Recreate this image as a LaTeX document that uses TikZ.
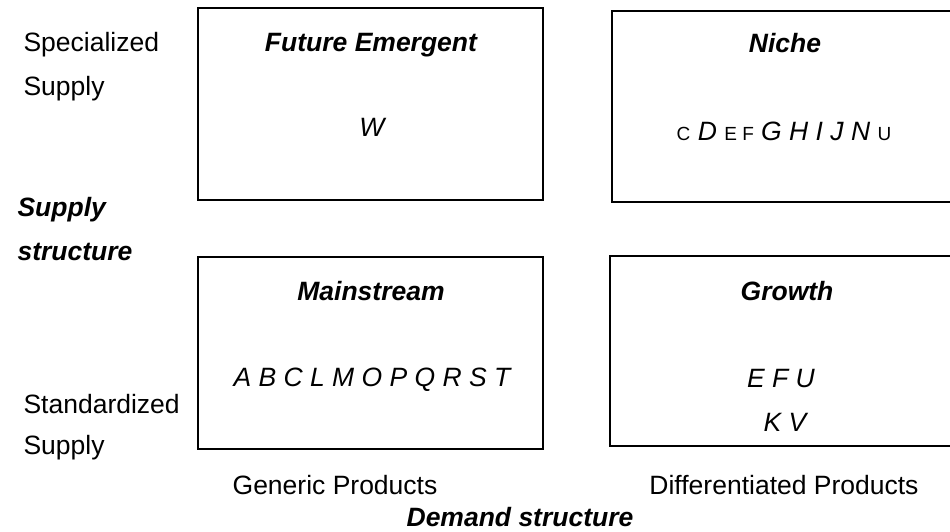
\documentclass[tikz,border=0pt]{standalone}
\usepackage{fontspec}
\setmainfont{Liberation Sans}
\newcommand\smallup[1]{{\fontsize{19}{22}\selectfont\upshape #1}}
\begin{document}
\begin{tikzpicture}[x=1pt,y=-1pt,
    cell/.style={draw,line width=1.7pt,inner sep=0pt},
    head/.style={anchor=base,font=\fontsize{26.5}{30}\selectfont\bfseries\itshape},
    items/.style={anchor=base,font=\fontsize{26.5}{30}\selectfont\itshape},
    side/.style={anchor=base west,font=\fontsize{26.5}{30}\selectfont}]
  \useasboundingbox (0,0) rectangle (950,531);
  \clip (0,0) rectangle (950,531);
  % the four quadrants
  \draw
    (370.5,104) node[cell,minimum width=345,minimum height=192] (emergent){}
    (786,106.5) node[cell,minimum width=348,minimum height=191] (niche){}
    (370.5,353) node[cell,minimum width=345,minimum height=192] (mainstream){}
    (785,351) node[cell,minimum width=350,minimum height=190] (growth){};
  % titles and members
  \draw
    (371,51) node[head] (emergenttitle){Future Emergent}
    (372,136) node[items] (emergentlist){W}
    (785,52) node[head] (nichetitle){Niche}
    (784,140) node[items] (nichelist){\smallup{C} D \smallup{E F} G H I J N \smallup{U}}
    (371,300) node[head] (mainstreamtitle){Mainstream}
    (372,386) node[items] (mainstreamlist){A B C L M O P Q R S T}
    (787,300) node[head] (growthtitle){Growth}
    (781,387) node[items] (growthlist){E F U}
    (785,431) node[items] (growthlistb){K V};
  % axis labels
  \draw
    (20,51) node[side] (special){Specialized}
    (20,95) node[side] (specialb){Supply}
    (14,216) node[side,font=\fontsize{26.5}{30}\selectfont\bfseries\itshape] (supply){Supply}
    (14,260) node[side,font=\fontsize{26.5}{30}\selectfont\bfseries\itshape] (supplyb){structure}
    (20,413) node[side] (standard){Standardized}
    (20,454) node[side] (standardb){Supply}
    (335,494) node[anchor=base,font=\fontsize{26.5}{30}\selectfont] (generic){Generic Products}
    (784,494) node[anchor=base,font=\fontsize{26.5}{30}\selectfont] (differ){Differentiated Products}
    (520,526) node[head] (demand){Demand structure};
\end{tikzpicture}
\end{document}
